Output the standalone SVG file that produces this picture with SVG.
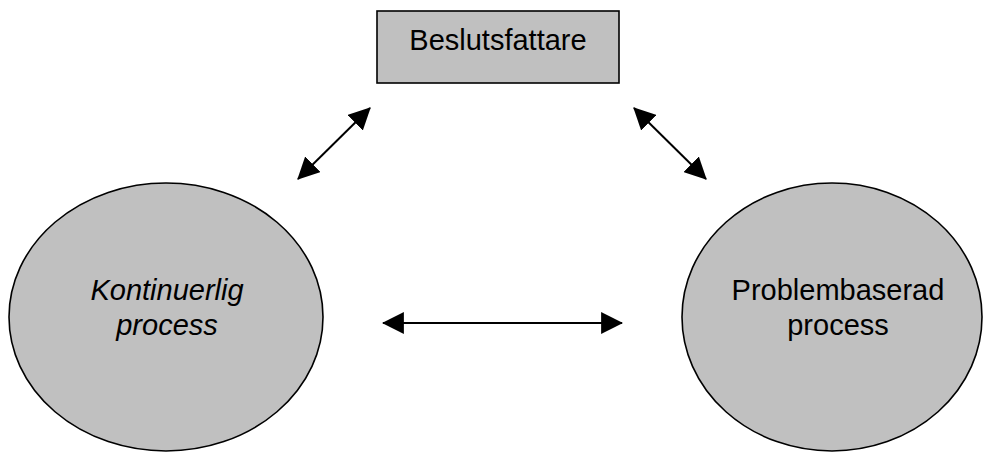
<svg xmlns="http://www.w3.org/2000/svg" width="983" height="452" viewBox="0 0 983 452">
<style>
.shape{fill:#c0c0c0;stroke:#000;stroke-width:1.6}
.lbl{font-family:"Liberation Sans",Arial,sans-serif;font-size:29px;fill:#000;text-anchor:middle}
.it{font-style:italic}
.conn{stroke:#000;stroke-width:2;fill:none;marker-start:url(#ah);marker-end:url(#ah)}
</style>
<defs>
<marker id="ah" markerUnits="userSpaceOnUse" markerWidth="22" markerHeight="22" viewBox="0 0 20 20" refX="19" refY="10" orient="auto-start-reverse">
<path d="M0,0 L20,10 L0,20 z" fill="#000"/>
</marker>
</defs>
<rect width="983" height="452" fill="#fff"/>
<g id="beslutsfattare">
<rect class="shape" x="377" y="11" width="242" height="72"/>
<text class="lbl" x="498" y="50">Beslutsfattare</text>
</g>
<g id="kontinuerlig">
<ellipse class="shape" cx="166" cy="317" rx="157" ry="134"/>
<text class="lbl it" x="167" y="300">Kontinuerlig</text>
<text class="lbl it" x="167" y="335">process</text>
</g>
<g id="problembaserad">
<ellipse class="shape" cx="832" cy="317" rx="150" ry="134"/>
<text class="lbl" x="838" y="300">Problembaserad</text>
<text class="lbl" x="838" y="335">process</text>
</g>
<g id="connectors">
<line class="conn" x1="298" y1="179" x2="370" y2="108"/>
<line class="conn" x1="634" y1="108" x2="706" y2="179"/>
<line class="conn" x1="383" y1="323" x2="622" y2="323"/>
</g>
</svg>
